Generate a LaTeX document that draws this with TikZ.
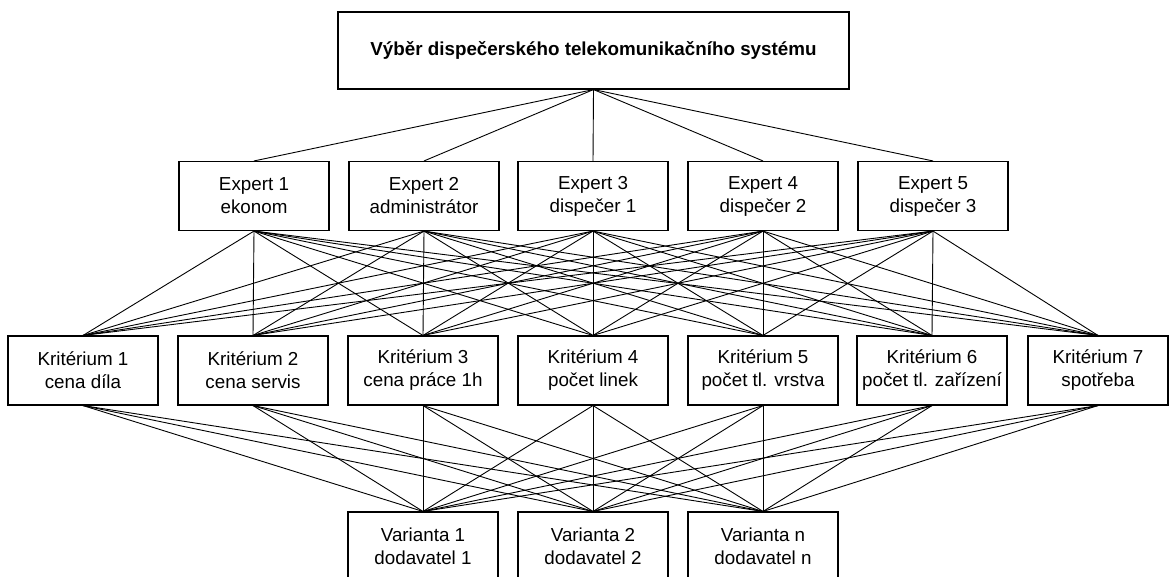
\documentclass[tikz,border=0pt]{standalone}
\usepackage{fontspec}
\setmainfont{Liberation Sans}

\begin{document}
\begin{tikzpicture}[x=1pt, y=-1pt,
    box/.style={draw, line width=1.1pt, fill=white, align=center, inner sep=0pt,
        minimum width=150pt, minimum height=69pt,
        font=\fontsize{18.8}{23}\selectfont},
    link/.style={line width=0.9pt}]

\path[use as bounding box, clip] (0,0) rectangle (1169,576);

% Goal
\node[box, minimum width=511pt, minimum height=77pt] (goal) at (593.5,50.5)
    {\textbf{Výběr dispečerského telekomunikačního systému}};

% Experts
\node[box] (e1) at (254,196) {Expert 1\\ekonom};
\node[box] (e2) at (424,196) {Expert 2\\administrátor};
\node[box] (e3) at (593,196) {Expert 3\\dispečer 1};
\node[box] (e4) at (763,196) {Expert 4\\dispečer 2};
\node[box] (e5) at (933,196) {Expert 5\\dispečer 3};

% Criteria
\node[box] (k1) at (83,370.5) {Kritérium 1\\cena díla};
\node[box] (k2) at (253,370.5) {Kritérium 2\\cena servis};
\node[box] (k3) at (423,370.5) {Kritérium 3\\cena práce 1h};
\node[box] (k4) at (593,370.5) {Kritérium 4\\počet linek};
\node[box] (k5) at (763,370.5) {Kritérium 5\\počet tl. vrstva};
\node[box] (k6) at (932,370.5) {Kritérium 6\\počet tl. zařízení};
\node[box, minimum width=140pt] (k7) at (1098,370.5) {Kritérium 7\\spotřeba};

% Variants
\node[box] (v1) at (423,546.5) {Varianta 1\\dodavatel 1};
\node[box] (v2) at (593,546.5) {Varianta 2\\dodavatel 2};
\node[box] (v3) at (763,546.5) {Varianta n\\dodavatel n};

% Links between the levels
\foreach \e in {1,...,5} {
    \draw[link] (goal.south) -- (e\e.north);
    \foreach \k in {1,...,7}
        \draw[link] (e\e.south) -- (k\k.north);
}
\foreach \k in {1,...,7}
    \foreach \v in {1,2,3}
        \draw[link] (k\k.south) -- (v\v.north);

\end{tikzpicture}
\end{document}
